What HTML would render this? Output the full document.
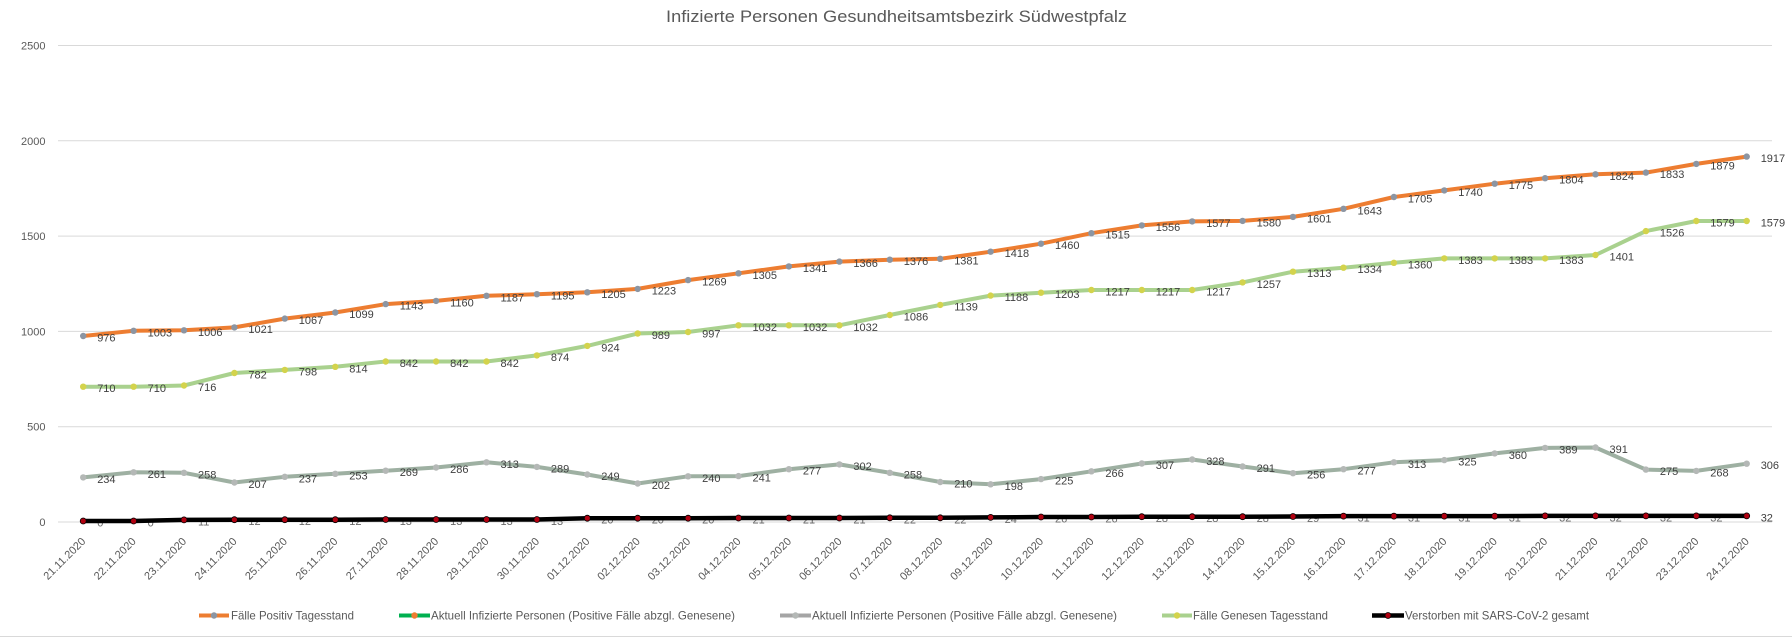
<!DOCTYPE html>
<html>
<head>
<meta charset="utf-8">
<style>
html,body{margin:0;padding:0;background:#fff;}
svg{display:block;}
text{font-family:"Liberation Sans",Arial,sans-serif;}
</style>
</head>
<body>
<svg width="1792" height="637" viewBox="0 0 1792 637" xmlns="http://www.w3.org/2000/svg">
<defs>
<marker id="mGray" markerUnits="userSpaceOnUse" markerWidth="10" markerHeight="10" refX="5" refY="5"><circle cx="5" cy="5" r="3.2" fill="#8C95A2"/></marker>
<marker id="mLgray" markerUnits="userSpaceOnUse" markerWidth="10" markerHeight="10" refX="5" refY="5"><circle cx="5" cy="5" r="3.2" fill="#B4B8B6"/></marker>
<marker id="mYel" markerUnits="userSpaceOnUse" markerWidth="10" markerHeight="10" refX="5" refY="5"><circle cx="5" cy="5" r="3.2" fill="#D3D34C"/></marker>
<marker id="mRed" markerUnits="userSpaceOnUse" markerWidth="10" markerHeight="10" refX="5" refY="5"><circle cx="5" cy="5" r="3" fill="#B00010" stroke="#000" stroke-width="0.8"/></marker>
</defs>
<rect width="1792" height="637" fill="#fff"/>
<line x1="0" y1="636.5" x2="1792" y2="636.5" stroke="#D9D9D9" stroke-width="1"/>

<!-- title -->
<text x="666" y="22" font-size="16.5" fill="#595959" textLength="461" lengthAdjust="spacingAndGlyphs">Infizierte Personen Gesundheitsamtsbezirk Südwestpfalz</text>

<!-- gridlines -->
<g stroke="#D9D9D9" stroke-width="1">
<line x1="58" y1="45.5" x2="1772" y2="45.5"/>
<line x1="58" y1="140.8" x2="1772" y2="140.8"/>
<line x1="58" y1="236.1" x2="1772" y2="236.1"/>
<line x1="58" y1="331.4" x2="1772" y2="331.4"/>
<line x1="58" y1="426.7" x2="1772" y2="426.7"/>
<line x1="58" y1="522" x2="1772" y2="522"/>
</g>

<!-- y labels -->
<g font-size="11" fill="#595959" text-anchor="end">
<text x="45.5" y="49.5">2500</text>
<text x="45.5" y="144.8">2000</text>
<text x="45.5" y="240.1">1500</text>
<text x="45.5" y="335.4">1000</text>
<text x="45.5" y="430.7">500</text>
<text x="45.5" y="526">0</text>
</g>

<!-- x labels -->
<g font-size="11" fill="#595959" text-anchor="end">
<text transform="translate(86.2,542) rotate(-45)">21.11.2020</text>
<text transform="translate(136.6,542) rotate(-45)">22.11.2020</text>
<text transform="translate(187.0,542) rotate(-45)">23.11.2020</text>
<text transform="translate(237.4,542) rotate(-45)">24.11.2020</text>
<text transform="translate(287.8,542) rotate(-45)">25.11.2020</text>
<text transform="translate(338.3,542) rotate(-45)">26.11.2020</text>
<text transform="translate(388.7,542) rotate(-45)">27.11.2020</text>
<text transform="translate(439.1,542) rotate(-45)">28.11.2020</text>
<text transform="translate(489.5,542) rotate(-45)">29.11.2020</text>
<text transform="translate(539.9,542) rotate(-45)">30.11.2020</text>
<text transform="translate(590.3,542) rotate(-45)">01.12.2020</text>
<text transform="translate(640.7,542) rotate(-45)">02.12.2020</text>
<text transform="translate(691.1,542) rotate(-45)">03.12.2020</text>
<text transform="translate(741.5,542) rotate(-45)">04.12.2020</text>
<text transform="translate(791.9,542) rotate(-45)">05.12.2020</text>
<text transform="translate(842.4,542) rotate(-45)">06.12.2020</text>
<text transform="translate(892.8,542) rotate(-45)">07.12.2020</text>
<text transform="translate(943.2,542) rotate(-45)">08.12.2020</text>
<text transform="translate(993.6,542) rotate(-45)">09.12.2020</text>
<text transform="translate(1044.0,542) rotate(-45)">10.12.2020</text>
<text transform="translate(1094.4,542) rotate(-45)">11.12.2020</text>
<text transform="translate(1144.8,542) rotate(-45)">12.12.2020</text>
<text transform="translate(1195.2,542) rotate(-45)">13.12.2020</text>
<text transform="translate(1245.6,542) rotate(-45)">14.12.2020</text>
<text transform="translate(1296.0,542) rotate(-45)">15.12.2020</text>
<text transform="translate(1346.5,542) rotate(-45)">16.12.2020</text>
<text transform="translate(1396.9,542) rotate(-45)">17.12.2020</text>
<text transform="translate(1447.3,542) rotate(-45)">18.12.2020</text>
<text transform="translate(1497.7,542) rotate(-45)">19.12.2020</text>
<text transform="translate(1548.1,542) rotate(-45)">20.12.2020</text>
<text transform="translate(1598.5,542) rotate(-45)">21.12.2020</text>
<text transform="translate(1648.9,542) rotate(-45)">22.12.2020</text>
<text transform="translate(1699.3,542) rotate(-45)">23.12.2020</text>
<text transform="translate(1749.7,542) rotate(-45)">24.12.2020</text>
</g>

<!-- series: Fälle Positiv -->
<polyline fill="none" stroke="#ED7D31" stroke-width="4" stroke-linejoin="round" stroke-linecap="round" marker-start="url(#mGray)" marker-mid="url(#mGray)" marker-end="url(#mGray)"
points="83.2,336.0 133.6,330.8 184.0,330.3 234.4,327.4 284.8,318.6 335.3,312.5 385.7,304.1 436.1,300.9 486.5,295.8 536.9,294.2 587.3,292.3 637.7,288.9 688.1,280.1 738.5,273.3 788.9,266.4 839.4,261.6 889.8,259.7 940.2,258.8 990.6,251.7 1041.0,243.7 1091.4,233.2 1141.8,225.4 1192.2,221.4 1242.6,220.9 1293.0,216.9 1343.5,208.8 1393.9,197.0 1444.3,190.4 1494.7,183.7 1545.1,178.2 1595.5,174.3 1645.9,172.6 1696.3,163.9 1746.7,156.6"/>

<!-- series: Aktuell (gray over green) -->
<polyline fill="none" stroke="#9EB0A2" stroke-width="4" stroke-linejoin="round" stroke-linecap="round" marker-start="url(#mLgray)" marker-mid="url(#mLgray)" marker-end="url(#mLgray)"
points="83.2,477.4 133.6,472.3 184.0,472.8 234.4,482.5 284.8,476.8 335.3,473.8 385.7,470.7 436.1,467.5 486.5,462.3 536.9,466.9 587.3,474.5 637.7,483.5 688.1,476.3 738.5,476.1 788.9,469.2 839.4,464.4 889.8,472.8 940.2,482.0 990.6,484.3 1041.0,479.1 1091.4,471.3 1141.8,463.5 1192.2,459.5 1242.6,466.5 1293.0,473.2 1343.5,469.2 1393.9,462.3 1444.3,460.1 1494.7,453.4 1545.1,447.9 1595.5,447.5 1645.9,469.6 1696.3,470.9 1746.7,463.7"/>

<!-- series: Genesen -->
<polyline fill="none" stroke="#A9D18E" stroke-width="4" stroke-linejoin="round" stroke-linecap="round" marker-start="url(#mYel)" marker-mid="url(#mYel)" marker-end="url(#mYel)"
points="83.2,386.7 133.6,386.7 184.0,385.5 234.4,373.0 284.8,369.9 335.3,366.8 385.7,361.5 436.1,361.5 486.5,361.5 536.9,355.4 587.3,345.9 637.7,333.5 688.1,332.0 738.5,325.3 788.9,325.3 839.4,325.3 889.8,315.0 940.2,304.9 990.6,295.6 1041.0,292.7 1091.4,290.0 1141.8,290.0 1192.2,290.0 1242.6,282.4 1293.0,271.7 1343.5,267.7 1393.9,262.8 1444.3,258.4 1494.7,258.4 1545.1,258.4 1595.5,255.0 1645.9,231.1 1696.3,221.0 1746.7,221.0"/>

<!-- death labels (under line) -->
<g font-size="11" fill="#6A6A6A">
<text x="97.2" y="526.5">0</text>
<text x="147.6" y="526.5">0</text>
<text x="198.0" y="525.4">11</text>
<text x="248.4" y="525.2">12</text>
<text x="298.8" y="525.2">12</text>
<text x="349.3" y="525.2">12</text>
<text x="399.7" y="525.0">13</text>
<text x="450.1" y="525.0">13</text>
<text x="500.5" y="525.0">13</text>
<text x="550.9" y="525.0">13</text>
<text x="601.3" y="523.7">20</text>
<text x="651.7" y="523.7">20</text>
<text x="702.1" y="523.7">20</text>
<text x="752.5" y="523.5">21</text>
<text x="802.9" y="523.5">21</text>
<text x="853.4" y="523.5">21</text>
<text x="903.8" y="523.3">22</text>
<text x="954.2" y="523.3">22</text>
<text x="1004.6" y="522.9">24</text>
<text x="1055.0" y="522.5">26</text>
<text x="1105.4" y="522.5">26</text>
<text x="1155.8" y="522.2">28</text>
<text x="1206.2" y="522.2">28</text>
<text x="1256.6" y="522.2">28</text>
<text x="1307.0" y="522.0">29</text>
<text x="1357.5" y="521.6">31</text>
<text x="1407.9" y="521.6">31</text>
<text x="1458.3" y="521.6">31</text>
<text x="1508.7" y="521.6">31</text>
<text x="1559.1" y="521.4">32</text>
<text x="1609.5" y="521.4">32</text>
<text x="1659.9" y="521.4">32</text>
<text x="1710.3" y="521.4">32</text>
</g>

<!-- series: Verstorben -->
<polyline fill="none" stroke="#000" stroke-width="4.5" stroke-linejoin="round" stroke-linecap="round" marker-start="url(#mRed)" marker-mid="url(#mRed)" marker-end="url(#mRed)"
points="83.2,521.0 133.6,521.0 184.0,519.9 234.4,519.7 284.8,519.7 335.3,519.7 385.7,519.5 436.1,519.5 486.5,519.5 536.9,519.5 587.3,518.2 637.7,518.2 688.1,518.2 738.5,518.0 788.9,518.0 839.4,518.0 889.8,517.8 940.2,517.8 990.6,517.4 1041.0,517.0 1091.4,517.0 1141.8,516.7 1192.2,516.7 1242.6,516.7 1293.0,516.5 1343.5,516.1 1393.9,516.1 1444.3,516.1 1494.7,516.1 1545.1,515.9 1595.5,515.9 1645.9,515.9 1696.3,515.9 1746.7,515.9"/>
<text x="1760.7" y="521.4" font-size="11" fill="#404040">32</text>

<!-- Positiv labels -->
<g font-size="11" fill="#404040">
<text x="97.2" y="341.5">976</text>
<text x="147.6" y="336.3">1003</text>
<text x="198.0" y="335.8">1006</text>
<text x="248.4" y="332.9">1021</text>
<text x="298.8" y="324.1">1067</text>
<text x="349.3" y="318.0">1099</text>
<text x="399.7" y="309.6">1143</text>
<text x="450.1" y="306.4">1160</text>
<text x="500.5" y="301.3">1187</text>
<text x="550.9" y="299.7">1195</text>
<text x="601.3" y="297.8">1205</text>
<text x="651.7" y="294.4">1223</text>
<text x="702.1" y="285.6">1269</text>
<text x="752.5" y="278.8">1305</text>
<text x="802.9" y="271.9">1341</text>
<text x="853.4" y="267.1">1366</text>
<text x="903.8" y="265.2">1376</text>
<text x="954.2" y="264.3">1381</text>
<text x="1004.6" y="257.2">1418</text>
<text x="1055.0" y="249.2">1460</text>
<text x="1105.4" y="238.7">1515</text>
<text x="1155.8" y="230.9">1556</text>
<text x="1206.2" y="226.9">1577</text>
<text x="1256.6" y="226.4">1580</text>
<text x="1307.0" y="222.4">1601</text>
<text x="1357.5" y="214.3">1643</text>
<text x="1407.9" y="202.5">1705</text>
<text x="1458.3" y="195.9">1740</text>
<text x="1508.7" y="189.2">1775</text>
<text x="1559.1" y="183.7">1804</text>
<text x="1609.5" y="179.8">1824</text>
<text x="1659.9" y="178.1">1833</text>
<text x="1710.3" y="169.4">1879</text>
<text x="1760.7" y="162.1">1917</text>
</g>

<!-- Genesen labels -->
<g font-size="11" fill="#404040">
<text x="97.2" y="392.2">710</text>
<text x="147.6" y="392.2">710</text>
<text x="198.0" y="391.0">716</text>
<text x="248.4" y="378.5">782</text>
<text x="298.8" y="375.4">798</text>
<text x="349.3" y="372.3">814</text>
<text x="399.7" y="367.0">842</text>
<text x="450.1" y="367.0">842</text>
<text x="500.5" y="367.0">842</text>
<text x="550.9" y="360.9">874</text>
<text x="601.3" y="351.4">924</text>
<text x="651.7" y="339.0">989</text>
<text x="702.1" y="337.5">997</text>
<text x="752.5" y="330.8">1032</text>
<text x="802.9" y="330.8">1032</text>
<text x="853.4" y="330.8">1032</text>
<text x="903.8" y="320.5">1086</text>
<text x="954.2" y="310.4">1139</text>
<text x="1004.6" y="301.1">1188</text>
<text x="1055.0" y="298.2">1203</text>
<text x="1105.4" y="295.5">1217</text>
<text x="1155.8" y="295.5">1217</text>
<text x="1206.2" y="295.5">1217</text>
<text x="1256.6" y="287.9">1257</text>
<text x="1307.0" y="277.2">1313</text>
<text x="1357.5" y="273.2">1334</text>
<text x="1407.9" y="268.3">1360</text>
<text x="1458.3" y="263.9">1383</text>
<text x="1508.7" y="263.9">1383</text>
<text x="1559.1" y="263.9">1383</text>
<text x="1609.5" y="260.5">1401</text>
<text x="1659.9" y="236.6">1526</text>
<text x="1710.3" y="226.5">1579</text>
<text x="1760.7" y="226.5">1579</text>
</g>

<!-- Aktuell labels -->
<g font-size="11" fill="#404040">
<text x="97.2" y="482.9">234</text>
<text x="147.6" y="477.8">261</text>
<text x="198.0" y="478.3">258</text>
<text x="248.4" y="488.0">207</text>
<text x="298.8" y="482.3">237</text>
<text x="349.3" y="479.3">253</text>
<text x="399.7" y="476.2">269</text>
<text x="450.1" y="473.0">286</text>
<text x="500.5" y="467.8">313</text>
<text x="550.9" y="472.4">289</text>
<text x="601.3" y="480.0">249</text>
<text x="651.7" y="489.0">202</text>
<text x="702.1" y="481.8">240</text>
<text x="752.5" y="481.6">241</text>
<text x="802.9" y="474.7">277</text>
<text x="853.4" y="469.9">302</text>
<text x="903.8" y="478.3">258</text>
<text x="954.2" y="487.5">210</text>
<text x="1004.6" y="489.8">198</text>
<text x="1055.0" y="484.6">225</text>
<text x="1105.4" y="476.8">266</text>
<text x="1155.8" y="469.0">307</text>
<text x="1206.2" y="465.0">328</text>
<text x="1256.6" y="472.0">291</text>
<text x="1307.0" y="478.7">256</text>
<text x="1357.5" y="474.7">277</text>
<text x="1407.9" y="467.8">313</text>
<text x="1458.3" y="465.6">325</text>
<text x="1508.7" y="458.9">360</text>
<text x="1559.1" y="453.4">389</text>
<text x="1609.5" y="453.0">391</text>
<text x="1659.9" y="475.1">275</text>
<text x="1710.3" y="476.4">268</text>
<text x="1760.7" y="469.2">306</text>
</g>

<!-- legend -->
<g>
<line x1="199" y1="615.5" x2="229" y2="615.5" stroke="#ED7D31" stroke-width="4"/>
<circle cx="214" cy="615.5" r="3.2" fill="#8C95A2"/>
<text x="231" y="619.5" font-size="12" fill="#595959" textLength="123" lengthAdjust="spacingAndGlyphs">Fälle Positiv Tagesstand</text>

<line x1="399" y1="615.5" x2="430" y2="615.5" stroke="#00B050" stroke-width="4"/>
<circle cx="414.5" cy="615.5" r="3.2" fill="#ED7D31"/>
<text x="431" y="619.5" font-size="12" fill="#595959" textLength="304" lengthAdjust="spacingAndGlyphs">Aktuell Infizierte Personen (Positive Fälle abzgl. Genesene)</text>

<line x1="780" y1="615.5" x2="811" y2="615.5" stroke="#A5A5A5" stroke-width="4"/>
<circle cx="795.5" cy="615.5" r="3.2" fill="#B4B8B6"/>
<text x="812" y="619.5" font-size="12" fill="#595959" textLength="305" lengthAdjust="spacingAndGlyphs">Aktuell Infizierte Personen (Positive Fälle abzgl. Genesene)</text>

<line x1="1162" y1="615.5" x2="1192" y2="615.5" stroke="#A9D18E" stroke-width="4"/>
<circle cx="1177" cy="615.5" r="3.2" fill="#D3D34C"/>
<text x="1193" y="619.5" font-size="12" fill="#595959" textLength="135" lengthAdjust="spacingAndGlyphs">Fälle Genesen Tagesstand</text>

<line x1="1372" y1="615.5" x2="1404" y2="615.5" stroke="#000" stroke-width="4.5"/>
<circle cx="1388" cy="615.5" r="3" fill="#B00010" stroke="#000" stroke-width="0.8"/>
<text x="1405" y="619.5" font-size="12" fill="#595959" textLength="184" lengthAdjust="spacingAndGlyphs">Verstorben mit SARS-CoV-2 gesamt</text>
</g>
</svg>
</body>
</html>
